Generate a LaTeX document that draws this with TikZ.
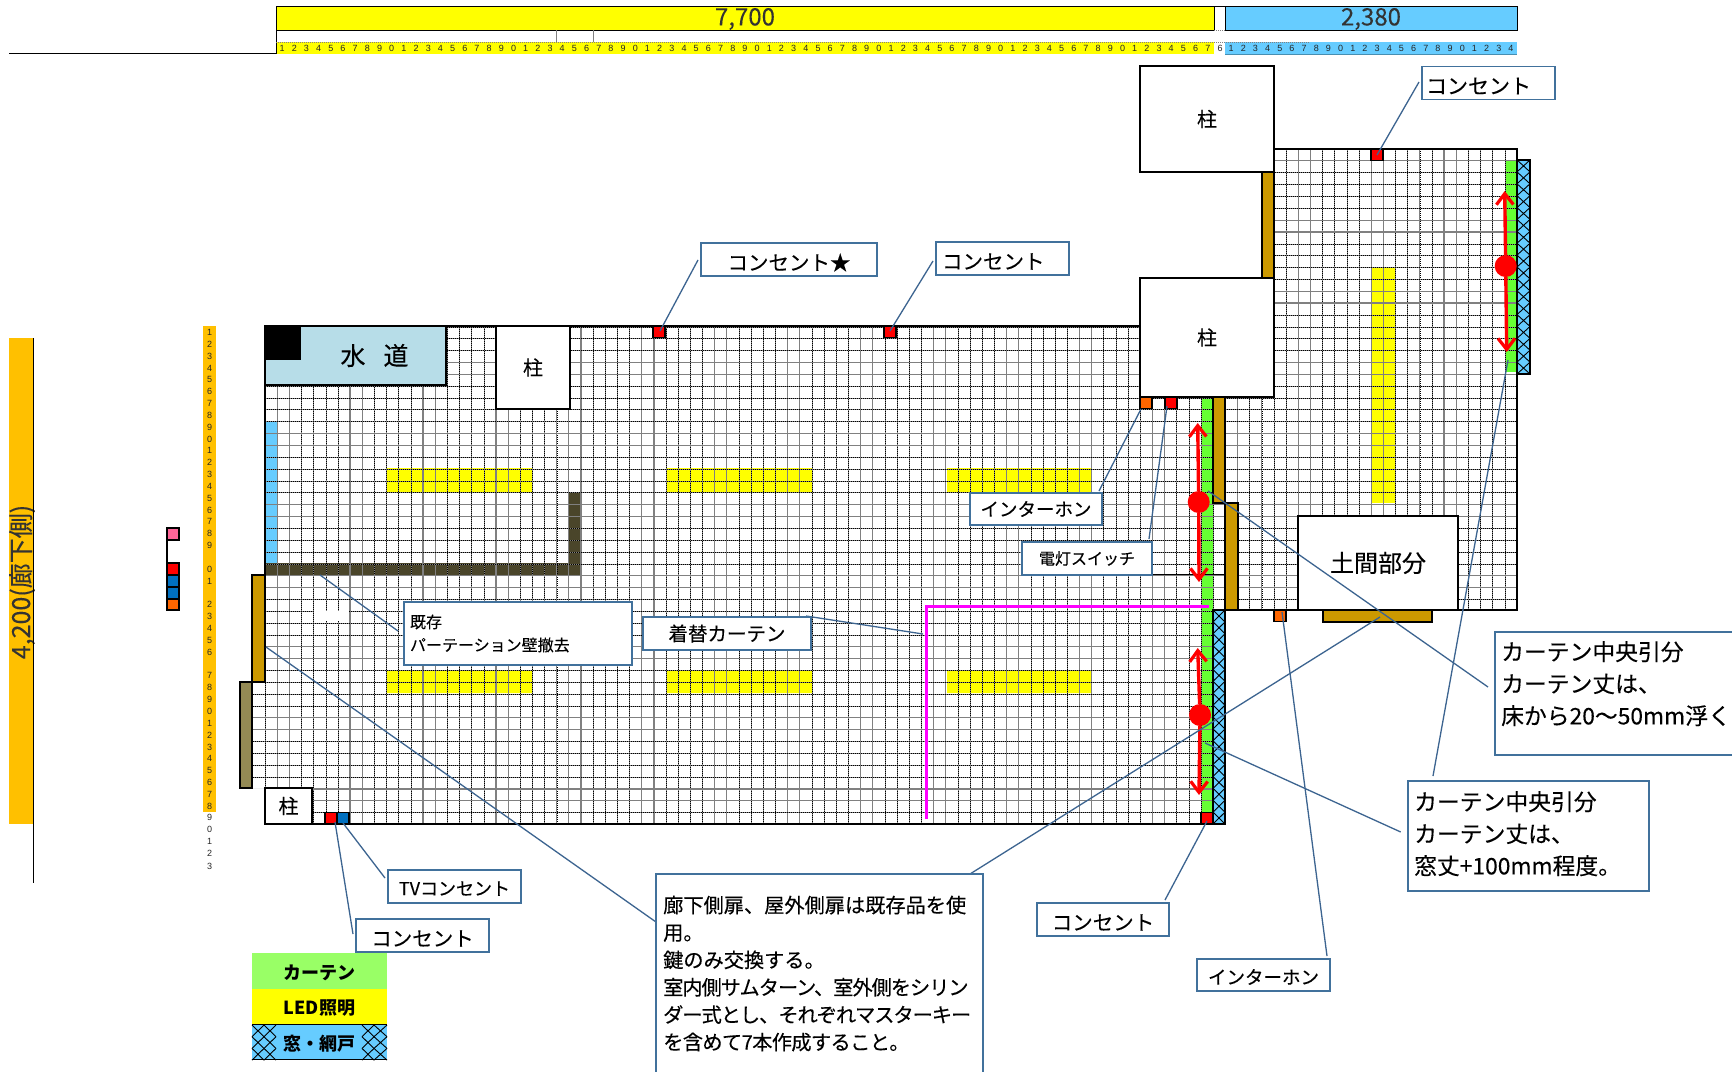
\documentclass[tikz,border=0pt]{standalone}
\usepackage{fontspec}
\setmainfont{Noto Sans CJK JP}[FakeBold=0.2,BoldFeatures={FakeBold=0}]
\newfontfamily\rulerfont{Liberation Sans}
\usetikzlibrary{arrows.meta}
\definecolor{wallor}{HTML}{CC9900}
\definecolor{olivew}{HTML}{948A54}
\definecolor{darkw}{HTML}{4A452A}
\definecolor{skyb}{HTML}{66CCFF}
\definecolor{waterb}{HTML}{B7DDE8}
\definecolor{curt}{HTML}{66FF33}
\definecolor{legg}{HTML}{99FF66}
\definecolor{amber}{HTML}{FFC000}
\definecolor{callc}{HTML}{41719C}
\definecolor{leadc}{HTML}{3C6490}
\definecolor{gridg}{HTML}{808080}
\definecolor{orsq}{HTML}{FF6600}
\definecolor{bluesq}{HTML}{0070C0}
\definecolor{pinksq}{HTML}{FF6699}
\definecolor{lightyel}{HTML}{FFFF00}
\definecolor{purered}{HTML}{FF0000}
\definecolor{puremag}{HTML}{FF00FF}
\newcommand{\fs}[2]{\fontsize{#1}{#2}\selectfont}
\newcommand{\dn}[2][3pt]{\raisebox{-#1}[\height][\depth]{#2}}
\newcommand{\hatchcol}[5]{% x0 x1 ystart step count
  \foreach \k in {1,...,#5}{
    \pgfmathsetmacro{\ya}{#3+(\k-1)*#4}
    \pgfmathsetmacro{\yb}{#3+\k*#4}
    \draw[black,line width=.9pt] (#1,\ya) -- (#2,\yb) (#2,\ya) -- (#1,\yb);
  }}
\tikzset{
  x=1pt,y=-1pt,
  wallbox/.style={draw=black,line width=1.6pt,fill=#1},
  callbox/.style={draw=callc,line width=1.2pt,fill=white,anchor=north west,align=left,inner xsep=6pt,inner ysep=0pt,outer sep=0pt,text=black},
  leader/.style={draw=leadc,line width=1.3pt},
  pillar/.style={draw=black,line width=1.7pt,fill=white,anchor=north west,inner sep=0pt,outer sep=0pt},
  sq/.style={draw=black,line width=1.4pt,fill=#1,minimum width=12pt,minimum height=11.5pt,inner sep=0pt,outer sep=0pt,anchor=north west},
  redarrow/.style={draw=purered,line width=3.4pt,-{Straight Barb[length=11pt,width=17pt,line width=3.2pt]}},
  pivot/.style={circle,fill=purered,draw=none,minimum size=22pt,inner sep=0pt},
  rulerlab/.style={font=\rulerfont\fs{9}{10},text=black!85,inner sep=0pt},
}
\begin{document}
\begin{tikzpicture}
\useasboundingbox (0,0) rectangle (1732,1071);
\clip (0,0) rectangle (1732,1071);
\fill[white] (0,0) rectangle (1732,1071);

% top ruler
\node[draw=black,line width=1pt,fill=lightyel,anchor=north west,outer sep=0pt,minimum width=938pt,minimum height=24pt,inner sep=0pt,text=black!80,font=\fontsize{24}{25}\selectfont] (ruleA) at (276,6) {\dn[1pt]{7,700}};
\node[draw=black,line width=1pt,fill=skyb,anchor=north west,outer sep=0pt,minimum width=292pt,minimum height=24pt,inner sep=0pt,text=black!80,font=\fontsize{24}{25}\selectfont] (ruleB) at (1225,6) {\dn[1pt]{2,380}};
\draw[black,line width=1pt] (1214,6) -- (1225,6);
\draw[gridg,densely dotted,line width=1pt] (1214,30) -- (1225,30);
\fill[lightyel] (276,42) rectangle (1214,54);
\fill[skyb] (1225,42) rectangle (1517,54);
\draw[black,line width=1pt] (276,30) -- (276,54);
\draw[gridg,densely dotted,line width=1pt] (276,42) -- (1310,42);
\draw[gridg,line width=1pt] (556,30) -- (556,42) (593,30) -- (593,42);
\draw[black,line width=1.1pt] (9,53.5) -- (276,53.5);
\draw[skyb!70!black,line width=.8pt] (1225,54) -- (1517,54);
\foreach \i in {1,...,77}{
  \pgfmathtruncatemacro{\d}{mod(\i,10)}
  \node[rulerlab] at ({276+(\i-.5)*12.18},48.5) {\d};
}
\node[rulerlab] at (1220,48.5) {6};
\foreach \i in {1,...,24}{
  \pgfmathtruncatemacro{\d}{mod(\i,10)}
  \node[rulerlab] at ({1225+(\i-.5)*12.167},48.5) {\d};
}

% left ruler
\node[fill=amber,anchor=north west,outer sep=0pt,minimum width=24pt,minimum height=486pt,inner sep=0pt] (ruleL) at (9,338) {};
\node[rotate=90,text=black!80,font=\fs{25}{26}] (ruleLt) at (22,582) {4,200(廊下側)};
\draw[black,line width=1pt] (33,338) -- (33,883);
\fill[amber] (203,326) rectangle (216,812);
\foreach \yy/\d in {332.3/1,344.3/2,356.3/3,368/4,379.7/5,391.7/6,403.7/7,415.7/8,427.7/9,439/0,450.7/1,462.7/2,474.7/3,486.7/4,498.7/5,510/6,521.7/7,533.7/8,545.7/9,569.7/0,581.7/1,604.7/2,616.7/3,628.7/4,640.7/5,652.7/6,675.7/7,687.7/8,699.7/9,711.7/0,723.7/1,735.7/2,747/3,758.7/4,770.7/5,782.7/6,794.7/7,806.7/8,817.7/9,829.7/0,841.7/1,853.7/2,866/3}{
  \node[rulerlab] at (209.5,\yy) {\d};
}

% swatches
\draw[black,line width=1.4pt,fill=pinksq] (167,528) rectangle (179,540);
\draw[black,line width=1.4pt] (167,540) -- (167,563);
\draw[black,line width=1.4pt,fill=purered] (167,563) rectangle (179,575);
\draw[black,line width=1.4pt,fill=bluesq] (167,575) rectangle (179,587);
\draw[black,line width=1.4pt,fill=bluesq] (167,587) rectangle (179,599);
\draw[black,line width=1.4pt,fill=orsq] (167,599) rectangle (179,610);

% room, fills and grid
\begin{scope}
\clip (265,326) -- (1140,326) -- (1140,397) -- (1274,397) -- (1274,149) -- (1517,149) -- (1517,610) -- (1225,610) -- (1225,824) -- (265,824) -- (265,788) -- (253,788) -- (253,684) -- (265,684) -- cycle;
\fill[lightyel] (386.5,468) rectangle (532,492) (666,468) rectangle (812,492) (947,468) rectangle (1091,492);
\fill[lightyel] (386.5,671) rectangle (532,693) (666,671) rectangle (812,693) (947,671) rectangle (1091,693);
\fill[lightyel] (1372,267) rectangle (1395,503);
\fill[curt] (1201,397) rectangle (1213,824);
\fill[curt] (1506,160) rectangle (1517,372);
\fill[skyb] (265,421) rectangle (277,563);
\fill[darkw] (265,563) rectangle (581,575);
\fill[darkw] (569,492) rectangle (581,575);
\foreach \i in {0,...,103}{
  \pgfmathsetmacro{\xx}{265+12.155*\i}
  \pgfmathtruncatemacro{\m}{mod(\i,6)}
  \ifnum\m=1 \draw[gridg,line width=1.2pt] (\xx,149) -- (\xx,824);
  \else\ifnum\m=2 \draw[gridg,line width=1.2pt] (\xx,149) -- (\xx,824);
  \else \draw[gridg,line width=.5pt] (\xx,149) -- (\xx,824);
        \draw[black,line width=.45pt,dash pattern=on .7pt off 1.3pt] (\xx,149) -- (\xx,824);
  \fi\fi
}
\foreach \j in {0,...,57}{
  \pgfmathsetmacro{\yy}{149+11.85*\j}
  \pgfmathtruncatemacro{\m}{mod(\j,6)}
  \ifnum\m=0 \draw[gridg,line width=1.2pt] (253,\yy) -- (1517,\yy);
  \else\ifnum\m=1 \draw[gridg,line width=1.2pt] (253,\yy) -- (1517,\yy);
  \else \draw[gridg,line width=.5pt] (253,\yy) -- (1517,\yy);
        \draw[black,line width=.45pt,dash pattern=on .7pt off 1.3pt] (253,\yy) -- (1517,\yy);
  \fi\fi
}
\fill[white] (314,611) rectangle (349,621);
\draw[black,line width=.6pt] (1152,574.5) -- (1225,574.5);
\end{scope}

% room outline
\draw[black,line width=1.6pt] (265,575) -- (265,326) -- (1140,326) (1274,149) -- (1517,149) -- (1517,610) -- (1225,610) (1225,824) -- (265,824);

% windows
\draw[wallbox=skyb] (1517,160) rectangle (1530,374);
\hatchcol{1517}{1530}{160}{11.89}{18}
\draw[black,line width=1.6pt] (1517,160) rectangle (1530,374);
\draw[wallbox=skyb] (1213,610) rectangle (1225,824);
\hatchcol{1213}{1225}{610}{11.89}{18}
\draw[black,line width=1.6pt] (1213,610) rectangle (1225,824);

% walls
\draw[wallbox=wallor] (1262,172) rectangle (1274,278);
\draw[wallbox=wallor] (1213,397) rectangle (1225,503);
\draw[wallbox=wallor] (1225,503) rectangle (1238,610);
\draw[wallbox=wallor] (252,575) rectangle (265,682);
\draw[wallbox=olivew] (240,682) rectangle (252,788);
\draw[wallbox=wallor] (1323,610) rectangle (1432,622);

% rooms / pillars
\node[wallbox=waterb,anchor=north west,outer sep=0pt,minimum width=181pt,minimum height=59pt,inner sep=0pt,font=\fs{25}{26},text=black] (water) at (265,326) {\hspace{38pt}水\hspace{18pt}道};
\fill[black] (265,326) rectangle (301,360);
\node[pillar,minimum width=134pt,minimum height=106pt,font=\fs{20}{22}] (pilA) at (1140,66) {柱};
\node[pillar,minimum width=134pt,minimum height=119pt,font=\fs{20}{22}] (pilB) at (1140,278) {柱};
\node[pillar,minimum width=74pt,minimum height=83pt,font=\fs{20}{22}] (pilC) at (496,326) {柱};
\node[pillar,minimum width=47pt,minimum height=36pt,font=\fs{20}{22}] (pilD) at (265,788) {柱};
\node[pillar,minimum width=160pt,minimum height=94pt,font=\fs{24}{26},text=black] (doma) at (1298,516) {土間部分};

% small squares
\node[sq=purered] (o1) at (653,326) {};
\node[sq=purered] (o2) at (884,326) {};
\node[sq=purered] (o3) at (1371,149) {};
\node[sq=orsq] (o4) at (1140,397) {};
\node[sq=purered] (o5) at (1165,397) {};
\node[sq=orsq] (o6) at (1274,610) {};
\node[sq=purered] (o7) at (325,812.5) {};
\node[sq=bluesq] (o8) at (337,812.5) {};
\node[sq=purered] (o9) at (1201,812.5) {};

% magenta partition
\draw[puremag,line width=3pt] (926,819) -- (926,606) -- (1209,606);

% red arrows
\node[pivot] (pa) at (1198.7,502) {};
\coordinate (pat) at (1197.7,423);
\coordinate (pab) at (1199,582);
\draw[redarrow] (pa) -- (pat);
\draw[redarrow] (pa) -- (pab);
\node[pivot] (pb) at (1200,715) {};
\coordinate (pbt) at (1197.7,648);
\coordinate (pbb) at (1199,795);
\draw[redarrow] (pb) -- (pbt);
\draw[redarrow] (pb) -- (pbb);
\node[pivot] (pc) at (1505.7,266) {};
\coordinate (pct) at (1504.7,191);
\coordinate (pcb) at (1506.7,352);
\draw[redarrow] (pc) -- (pct);
\draw[redarrow] (pc) -- (pcb);

% leaders: free ends
\foreach \n/\p in {
 a1/{698,260},a2/{660,331},b1/{933,261},b2/{890,331},c1/{1419,82},c2/{1377,155},
 d1/{320,575},d2/{398,631},e1/{806,616},e2/{923,634},f1/{1099,491},f2/{1141,409},
 g1/{1149,539},g2/{1167,406},h1/{1488,687},h2/{1208,491},i1/{1433,776},i2/{1508,360},
 j1/{1400.7,832},j2/{1205,743},k1/{656,922},k2/{266,647},l1/{970,874},l2/{1380,617},
 m1/{385,878},m2/{343,823},n1/{353,934},n2/{335,822},o1e/{1165,900},o2e/{1207,821},
 p1/{1327,956},p2/{1282,612}}{\coordinate (\n) at (\p);}
\foreach \a/\b in {a1/a2,b1/b2,c1/c2,d1/d2,e1/e2,f1/f2,g1/g2,h1/h2,i1/i2,j1/j2,k1/k2,l1/l2,m1/m2,n1/n2,o1e/o2e,p1/p2}{
  \draw[leader] (\a) -- (\b);
}

% callouts
\node[callbox,text width=164pt,minimum height=33pt,align=center,font=\fs{20.5}{24}] (ca) at (701,243) {\dn{コンセント★}};
\node[callbox,text width=121pt,minimum height=33pt,font=\fs{20.5}{24}] (cb) at (936,242) {\dn{コンセント}};
\node[callbox,text width=121pt,minimum height=33pt,font=\fs{21}{24}] (cc) at (1422,66.5) {\dn{\hspace{-2pt}コンセント}};
\node[callbox,text width=216pt,minimum height=63pt,font=\fs{16}{23}] (cd) at (404,602) {既存\\パーテーション壁撤去};
\node[callbox,text width=156pt,minimum height=33pt,align=center,font=\fs{19.5}{24}] (ce) at (643,617) {着替カーテン};
\node[callbox,text width=120pt,minimum height=32pt,align=center,font=\fs{18.5}{24}] (cf) at (970,493) {インターホン};
\node[callbox,text width=118pt,minimum height=33pt,align=center,font=\fs{16}{24}] (cg) at (1022,542) {電灯スイッチ};
\node[callbox,text width=240pt,minimum height=123pt] (ch) at (1495,632) {};
\node[anchor=north west,align=left,inner sep=0pt,text=black,font=\fs{22.8}{32}] (cht) at (1501,641) {カーテン中央引分\\カーテン丈は、\\床から20～50mm浮く};
\node[callbox,text width=229pt,minimum height=110pt] (ci) at (1408,781) {};
\node[anchor=north west,align=left,inner sep=0pt,text=black,font=\fs{22.8}{32}] (cit) at (1414,791) {カーテン中央引分\\カーテン丈は、\\窓丈+100mm程度。};
\node[callbox,text width=315pt,minimum height=215pt] (cj) at (656,874) {};
\node[anchor=north west,align=left,inner sep=0pt,text=black,font=\fs{20.2}{27.4}] (cjt) at (663,895.5) {廊下側扉、屋外側扉は既存品を使\\用。\\鍵のみ交換する。\\{\addfontfeature{LetterSpace=-5}室内側サムターン、室外側をシリン}\\{\addfontfeature{LetterSpace=-5}ダー式とし、それぞれマスターキー}\\{\addfontfeature{LetterSpace=-3}を含めて7本作成すること。}};
\node[callbox,text width=121pt,minimum height=33pt,align=center,font=\fs{18}{24}] (ck) at (388,870) {\dn[2pt]{TVコンセント}};
\node[callbox,text width=121pt,minimum height=33pt,align=center,font=\fs{20.5}{24}] (cl) at (356,919) {\dn{コンセント}};
\node[callbox,text width=120pt,minimum height=33pt,align=center,font=\fs{20.5}{24}] (cm) at (1037,903) {\dn{コンセント}};
\node[callbox,text width=121pt,minimum height=32pt,align=center,font=\fs{18.5}{24}] (cn) at (1197,959) {\dn[2pt]{インターホン}};

% legend
\node[fill=legg,anchor=north west,outer sep=0pt,minimum width=135pt,minimum height=36pt,inner sep=0pt,font=\bfseries\fs{18}{20}] (lg1) at (252,953) {\dn[2pt]{カーテン}};
\node[fill=lightyel,anchor=north west,outer sep=0pt,minimum width=135pt,minimum height=35pt,inner sep=0pt,font=\bfseries\fs{18}{20}] (lg2) at (252,989) {\dn[2pt]{LED照明}};
\fill[skyb] (252,1024) rectangle (387,1060);
\hatchcol{252}{264}{1025}{11.7}{3}
\hatchcol{264}{276}{1025}{11.7}{3}
\hatchcol{362}{374}{1025}{11.7}{3}
\hatchcol{374}{387}{1025}{11.7}{3}
\draw[black,line width=1.4pt] (252,1024.5) -- (387,1024.5) (252,1059.5) -- (387,1059.5);
\node[inner sep=0pt,font=\bfseries\fs{18}{20}] (lg3) at (319.5,1044) {窓・網戸};
\end{tikzpicture}
\end{document}
